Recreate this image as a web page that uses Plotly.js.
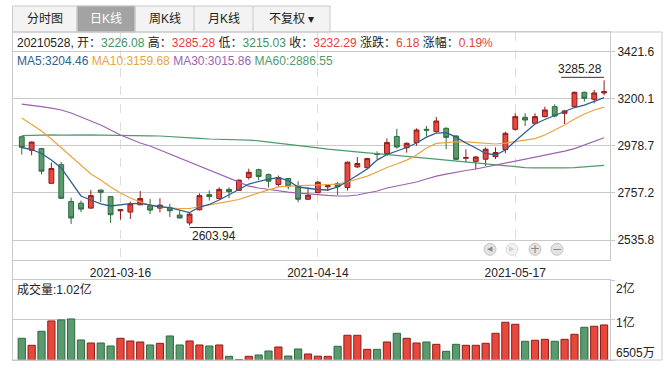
<!DOCTYPE html>
<html>
<head>
<meta charset="utf-8">
<script src="https://cdn.plot.ly/plotly-3.0.1.min.js"></script>
<style>html,body{margin:0;padding:0;background:#fff;}#chart{width:668px;height:368px;}</style>
</head>
<body>
<div id="chart"></div>
<script>
const dates = ['2021-03-02','2021-03-03','2021-03-04','2021-03-05','2021-03-08','2021-03-09','2021-03-10','2021-03-11','2021-03-12','2021-03-15',
'2021-03-16','2021-03-17','2021-03-18','2021-03-19','2021-03-22','2021-03-23','2021-03-24','2021-03-25','2021-03-26','2021-03-29',
'2021-03-30','2021-03-31','2021-04-01','2021-04-02','2021-04-06','2021-04-07','2021-04-08','2021-04-09','2021-04-12','2021-04-13',
'2021-04-14','2021-04-15','2021-04-16','2021-04-19','2021-04-20','2021-04-21','2021-04-22','2021-04-23','2021-04-26','2021-04-27',
'2021-04-28','2021-04-29','2021-04-30','2021-05-06','2021-05-07','2021-05-10','2021-05-11','2021-05-12','2021-05-13','2021-05-14',
'2021-05-17','2021-05-18','2021-05-19','2021-05-20','2021-05-21','2021-05-24','2021-05-25','2021-05-26','2021-05-27','2021-05-28'];

const openP = [3020.6,2957.0,2965.0,2802.0,2889.2,2716.4,2708.6,2685.5,2770.4,2739.5,
2673.1,2667.0,2701.0,2696.3,2685.5,2687.1,2653.1,2616.0,2677.8,2748.8,
2730.3,2773.5,2768.8,2829.0,2866.0,2842.9,2796.6,2824.4,2788.9,2727.2,
2758.0,2785.8,2799.7,2782.0,2879.0,2875.3,2941.5,2940.0,3022.0,2969.3,
2993.0,3055.4,3044.4,3060.1,3024.1,2919.5,2905.0,2915.0,2927.1,2960.0,
3055.4,3111.7,3083.6,3114.9,3161.8,3130.5,3161.8,3229.1,3196.2,3226.08];
const highP = [3022.0,2998.0,2967.5,2899.5,2901.5,2734.9,2721.0,2770.4,2772.0,2741.0,
2680.9,2716.4,2765.7,2728.7,2731.8,2705.5,2674.6,2662.3,2754.9,2768.8,
2782.7,2782.7,2819.8,2870.7,2870.7,2847.5,2838.3,2827.5,2812.0,2782.7,
2812.0,2793.5,2808.9,2904.6,2925.5,2921.6,2952.0,3013.0,3058.0,2994.0,
3060.0,3071.0,3113.0,3064.8,3028.0,2961.5,2930.2,2970.9,2970.9,3044.4,
3130.5,3130.5,3130.5,3161.8,3172.8,3146.2,3232.2,3232.2,3240.1,3285.28];
const lowP = [2937.5,2933.5,2844.0,2800.0,2728.7,2611.4,2667.0,2682.4,2713.3,2616.0,
2631.5,2634.6,2699.4,2657.7,2665.4,2643.9,2637.6,2603.94,2674.6,2721.0,
2727.2,2731.8,2767.3,2819.8,2816.7,2782.7,2785.8,2773.5,2713.3,2724.1,
2754.9,2765.7,2747.2,2768.0,2874.0,2870.7,2915.0,2932.0,2965.0,2946.0,
2979.0,3022.0,3041.3,2962.0,2911.4,2900.0,2868.0,2884.0,2916.1,2943.0,
3049.1,3071.0,3078.9,3111.7,3111.7,3080.4,3157.1,3185.3,3177.5,3215.03];
const closeP = [2971.0,2995.5,2859.0,2871.5,2731.8,2639.2,2680.9,2744.1,2759.6,2654.6,
2677.8,2705.5,2730.3,2676.2,2699.4,2673.1,2639.2,2657.7,2744.1,2739.5,
2773.5,2762.7,2816.7,2853.7,2833.6,2812.0,2829.0,2788.9,2727.2,2745.7,
2807.4,2790.4,2785.8,2901.0,2895.0,2918.0,2938.0,2993.0,2972.5,2989.7,
3052.3,3051.5,3094.5,3017.8,2914.5,2923.0,2925.5,2962.0,2946.5,3036.6,
3114.9,3099.2,3114.9,3146.2,3118.0,3141.5,3229.1,3200.9,3226.11,3232.29];

// volume bar heights, read against the 1亿 grid line
const volume = [0.537,0.364,0.711,0.967,0.992,1.017,0.496,0.421,0.421,0.347,
0.537,0.471,0.446,0.372,0.413,0.595,0.372,0.471,0.372,0.347,
0.372,0.091,0.008,0.091,0.124,0.223,0.322,0.099,0.273,0.149,
0.095,0.091,0.339,0.612,0.612,0.264,0.264,0.446,0.661,0.537,
0.421,0.446,0.388,0.215,0.388,0.364,0.364,0.413,0.661,0.934,
0.884,0.463,0.488,0.512,0.463,0.512,0.636,0.810,0.835,0.868];
const lastVolumeText = '1.02亿';

const ma5 = [2970,2960.6,2942,2911,2874,2808,2742.5,2723.6,2705,2695.4,
2702.5,2707,2708,2700,2692,2688,2676.5,2664.9,2690.7,2702.5,
2723.6,2747,2773,2798.7,2810.4,2822,2829,2815,2784.6,2777.6,
2773,2770.6,2784.6,2810.4,2838.6,2869,2911,2937,2953.6,2970,
2991,3019,3038,3039.5,3019,2991,2967.7,2941.9,2934.8,2958,
3000.5,3042.8,3080.4,3101.5,3120,3141,3157.8,3169.5,3188,3204.46];
const ma10 = [3108.5,3080,3047.5,3010,2968,2925.5,2883.5,2846,2817.5,2784.7,
2756.5,2733,2714,2700,2690.7,2686,2683.7,2683.7,2690.7,2700,
2709,2716,2726,2742,2756.5,2768,2785,2789,2792,2792,
2794,2796,2798.5,2808,2822,2836,2855,2876,2892.6,2911,
2935,2968,2989,2994,2996,2996,2994,2989,2986.5,2991,
2998,3005.5,3012,3028.5,3052,3075.6,3103.8,3127,3146,3159.68];
const ma30 = [3174,3169,3162,3155,3146,3132,3113,3094.5,3076,3052,
3029,3010,2991,2977,2958,2940,2921,2902,2883.5,2864.5,
2846,2827,2808,2789,2780,2773,2766,2761,2756,2752,
2747,2745,2742.5,2742.5,2747,2756,2766,2780,2789,2799,
2808,2822,2836,2845,2855,2862,2869,2878,2888,2897,
2907,2916,2925,2935,2944,2953,2965,2982,3000,3015.86];
const ma60 = [3026,3028,3029,3029,3028,3029,3030,3029,3028,3028,
3028,3027,3026,3025,3024,3022,3019,3016,3013,3010,
3009,3008,3007,3005,3001,2996,2990,2986,2981,2975,
2968,2962,2957,2953,2949,2945,2941,2937,2931,2926,
2923,2919,2915,2911,2907,2903,2898,2893,2888,2884,
2880,2876,2874,2873,2873,2874,2876,2879,2882,2886.55];

const yTickVals = [2535.8, 2757.2, 2978.7, 3200.1, 3421.6];
const yTickText = ['2535.8','2757.2','2978.7','3200.1','3421.6'];
const xTickVals = ['2021-03-16','2021-04-14','2021-05-17'];
const volTickVals = [0, 1, 1.98];
const volLabels = ['2亿','1亿','6505万'];
const tabs = ['分时图','日K线','周K线','月K线','不复权 ▾'];

const W = 668, H = 368;
const PX = x => x / W, PY = y => 1 - y / H;
const RED = '#e8473b', RED_LINE = '#8e1b1b', GREEN = '#5a9a6e', GREEN_LINE = '#2c6b3d';
const TXT_RED = '#e8413a', TXT_GREEN = '#3f9462';
const C5 = '#2d5f91', C10 = '#e8a440', C30 = '#9c62b2', C60 = '#4f9a6b';
const GRID = '#c9c9c9';
const FONT = '"Liberation Sans", Arial, "Noto Sans CJK SC", sans-serif';

const n = dates.length;
const last = n - 1;
const volColors = closeP.map((c, i) => c >= openP[i] ? RED : GREEN);
const volLines = closeP.map((c, i) => c >= openP[i] ? RED_LINE : GREEN_LINE);

const maxHigh = Math.max(...highP), minLow = Math.min(...lowP);
const iMax = highP.indexOf(maxHigh), iMin = lowP.indexOf(minLow);

const xRange = [-0.94, n - 0.4];

const traces = [
  {type:'candlestick', x:dates, open:openP, high:highP, low:lowP, close:closeP,
   xaxis:'x', yaxis:'y', whiskerwidth:0, hoverinfo:'skip', showlegend:false,
   increasing:{line:{color:RED_LINE, width:1}, fillcolor:RED},
   decreasing:{line:{color:GREEN_LINE, width:1}, fillcolor:GREEN}},
  {type:'scatter', mode:'lines', x:dates, y:ma60, xaxis:'x', yaxis:'y', line:{color:C60, width:1.2}, hoverinfo:'skip', showlegend:false},
  {type:'scatter', mode:'lines', x:dates, y:ma30, xaxis:'x', yaxis:'y', line:{color:C30, width:1.2}, hoverinfo:'skip', showlegend:false},
  {type:'scatter', mode:'lines', x:dates, y:ma10, xaxis:'x', yaxis:'y', line:{color:C10, width:1.2}, hoverinfo:'skip', showlegend:false},
  {type:'scatter', mode:'lines', x:dates, y:ma5, xaxis:'x', yaxis:'y', line:{color:C5, width:1.3}, hoverinfo:'skip', showlegend:false},
  {type:'bar', x:dates, y:volume, xaxis:'x2', yaxis:'y2', hoverinfo:'skip', showlegend:false,
   marker:{color:volColors, line:{color:volLines, width:1}}}
];

const shapes = [];
const annotations = [];

// tab bar
const tabEdges = [12.5, 77, 135, 194, 253, 330];
shapes.push({type:'rect', xref:'paper', yref:'paper', x0:PX(12.5), x1:PX(330), y0:PY(32), y1:PY(6), fillcolor:'#f3f3f3', line:{color:'#c8c8c8', width:1}});
shapes.push({type:'rect', xref:'paper', yref:'paper', x0:PX(77), x1:PX(135), y0:PY(32), y1:PY(6), fillcolor:'#a3a3a3', line:{color:'#c8c8c8', width:1}});
for (let k = 1; k < tabEdges.length - 1; k++) {
  shapes.push({type:'line', xref:'paper', yref:'paper', x0:PX(tabEdges[k]), x1:PX(tabEdges[k]), y0:PY(32), y1:PY(6), line:{color:'#c8c8c8', width:1}});
}
tabs.forEach((t, k) => {
  annotations.push({xref:'paper', yref:'paper', x:PX((tabEdges[k] + tabEdges[k+1]) / 2), y:PY(19.5), text:t, showarrow:false,
    xanchor:'center', yanchor:'middle', font:{size:12, color: k === 1 ? '#ffffff' : '#222222', family:FONT}});
});

// outer frame
shapes.push({type:'rect', xref:'paper', yref:'paper', x0:PX(12.5), x1:PX(662), y0:PY(360), y1:PY(32), line:{color:GRID, width:1}, fillcolor:'rgba(0,0,0,0)'});

// info rows
const sp = (c, t) => '<span style="color:' + c + '">' + t + '</span>';
const lastDate = dates[last].replace(/-/g, '');
const chg = (closeP[last] - closeP[last - 1]);
const info = lastDate + ', 开：' + sp(TXT_GREEN, openP[last].toFixed(2)) + ' 高：' + sp(TXT_RED, highP[last].toFixed(2)) +
  ' 低：' + sp(TXT_GREEN, lowP[last].toFixed(2)) + ' 收：' + sp(TXT_RED, closeP[last].toFixed(2)) +
  ' 涨跌：' + sp(TXT_RED, chg.toFixed(2)) + ' 涨幅：' + sp(TXT_RED, (chg / closeP[last - 1] * 100).toFixed(2) + '%');
annotations.push({xref:'paper', yref:'paper', x:PX(15), y:PY(42.3), text:info, showarrow:false, xanchor:'left', yanchor:'middle', font:{size:12, color:'#222', family:FONT}});
const maRow = sp(C5, 'MA5:' + ma5[last].toFixed(2)) + ' ' + sp(C10, 'MA10:' + ma10[last].toFixed(2)) + ' ' +
  sp(C30, 'MA30:' + ma30[last].toFixed(2)) + ' ' + sp(C60, 'MA60:' + ma60[last].toFixed(2));
annotations.push({xref:'paper', yref:'paper', x:PX(15), y:PY(60.7), text:maRow, showarrow:false, xanchor:'left', yanchor:'middle', font:{size:12, family:FONT}});

// high / low marks
shapes.push({type:'line', xref:'x', yref:'y', xsizemode:'pixel', ysizemode:'pixel', xanchor:dates[iMax], yanchor:maxHigh,
  x0:-43, x1:0, y0:3, y1:3, line:{color:'#333', width:1}});
annotations.push({xref:'x', yref:'y', x:dates[iMax], y:maxHigh, text:maxHigh.toFixed(2), showarrow:false, xanchor:'right', yanchor:'bottom', yshift:2, font:{size:12, color:'#222', family:FONT}});
shapes.push({type:'line', xref:'x', yref:'y', xsizemode:'pixel', ysizemode:'pixel', xanchor:dates[iMin], yanchor:minLow,
  x0:0, x1:43, y0:-2, y1:-2, line:{color:'#333', width:1}});
annotations.push({xref:'x', yref:'y', x:dates[iMin], y:minLow, text:minLow.toFixed(2), showarrow:false, xanchor:'left', yanchor:'top', yshift:-2, font:{size:12, color:'#222', family:FONT}});

// volume header
annotations.push({xref:'paper', yref:'paper', x:PX(15), y:PY(289), text:'成交量:' + lastVolumeText, showarrow:false, xanchor:'left', yanchor:'middle', font:{size:12, color:'#222', family:FONT}});
// volume axis labels
const volLabelY = [288, 322, 353];
volLabels.forEach((t, k) => {
  annotations.push({xref:'paper', yref:'paper', x:PX(614), y:PY(volLabelY[k]), text:t, showarrow:false, xanchor:'left', yanchor:'middle', font:{size:12, color:'#222', family:FONT}});
});

// navigation buttons
const btnX = [490, 512, 535, 557];
const btnGlyph = ['◀', '▶', '+', '−'];
btnX.forEach((bx, k) => {
  shapes.push({type:'circle', xref:'paper', yref:'paper', x0:PX(bx - 6), x1:PX(bx + 6), y0:PY(255.3), y1:PY(243.3),
    fillcolor: k === 1 ? '#f0f0f0' : '#e3e3e3', line:{color: k === 1 ? '#dddddd' : '#c4c4c4', width:1}});
  annotations.push({xref:'paper', yref:'paper', x:PX(bx), y:PY(249.3), text:btnGlyph[k], showarrow:false, xanchor:'center', yanchor:'middle',
    font:{size: k < 2 ? 7 : 12, color: k === 1 ? '#d0d0d0' : '#8a8a8a', family:'DejaVu Sans'}});
});

const layout = {
  width:W, height:H, margin:{l:0, r:0, t:0, b:0}, paper_bgcolor:'#ffffff', plot_bgcolor:'#ffffff',
  font:{family:FONT, size:12, color:'#222'}, showlegend:false, bargap:0.27, dragmode:false,
  xaxis:{domain:[PX(12.5), PX(610)], anchor:'y', type:'category', range:xRange, tickvals:xTickVals, ticktext:xTickVals,
    showgrid:true, gridcolor:'#dcdcdc', griddash:'dash', gridwidth:1, showline:true, linecolor:GRID, mirror:true,
    ticks:'', tickfont:{size:12, color:'#222'}, rangeslider:{visible:false}, fixedrange:true, ticklabelstandoff:2},
  yaxis:{domain:[PY(260), PY(32)], anchor:'x', range:[2442.0, 3512.2], side:'right', tickvals:yTickVals, ticktext:yTickText,
    showgrid:true, gridcolor:GRID, gridwidth:1, zeroline:false, showline:true, linecolor:GRID, mirror:true,
    ticks:'outside', ticklen:4, tickcolor:GRID, tickfont:{size:12, color:'#222'}, fixedrange:true},
  xaxis2:{domain:[PX(12.5), PX(610)], anchor:'y2', type:'category', range:xRange, showticklabels:false, ticks:'',
    showgrid:false, showline:true, linecolor:GRID, mirror:true, fixedrange:true},
  yaxis2:{domain:[PY(360), PY(280)], anchor:'x2', range:[0, 1.98], side:'right', tickvals:volTickVals, showticklabels:false,
    showgrid:true, gridcolor:GRID, zeroline:false, showline:true, linecolor:GRID, mirror:true,
    ticks:'outside', ticklen:4, tickcolor:GRID, fixedrange:true},
  shapes:shapes, annotations:annotations
};

Plotly.newPlot('chart', traces, layout, {staticPlot:true, displayModeBar:false});
</script>
</body>
</html>
